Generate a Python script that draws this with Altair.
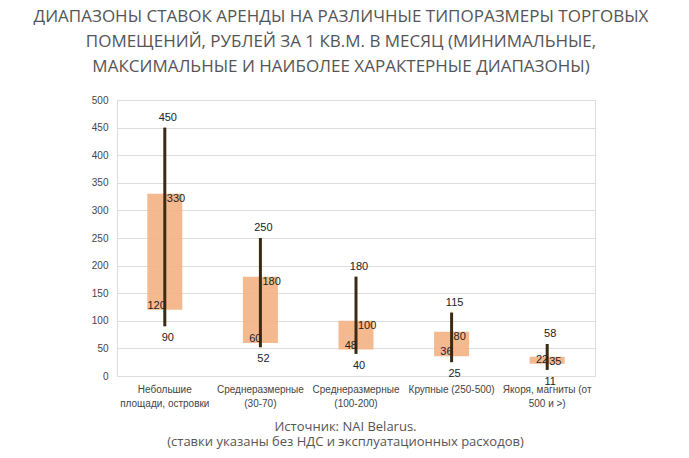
import altair as alt
import pandas as pd

categories = [
    "Небольшие|площади, островки",
    "Среднеразмерные|(30-70)",
    "Среднеразмерные |(100-200)",
    "Крупные (250-500)",
    "Якоря, магниты (от|500 и >)",
]
min_vals = [90, 52, 40, 25, 11]
max_vals = [450, 250, 180, 115, 58]
low_vals = [120, 60, 48, 36, 22]
high_vals = [330, 180, 100, 80, 35]
y_ticks = [0, 50, 100, 150, 200, 250, 300, 350, 400, 450, 500]

df = pd.DataFrame({
    "cat": categories,
    "mn": min_vals,
    "mx": max_vals,
    "lo": low_vals,
    "hi": high_vals,
})

title_lines = [
    "ДИАПАЗОНЫ СТАВОК АРЕНДЫ НА РАЗЛИЧНЫЕ ТИПОРАЗМЕРЫ ТОРГОВЫХ",
    "ПОМЕЩЕНИЙ, РУБЛЕЙ ЗА 1 КВ.М. В МЕСЯЦ (МИНИМАЛЬНЫЕ,",
    "МАКСИМАЛЬНЫЕ И НАИБОЛЕЕ ХАРАКТЕРНЫЕ ДИАПАЗОНЫ)",
]
source_lines = [
    "Источник: NAI Belarus.",
    "(ставки указаны без НДС и эксплуатационных расходов)",
]

x = alt.X(
    "cat:N",
    sort=categories,
    scale=alt.Scale(paddingInner=0, paddingOuter=0),
    axis=alt.Axis(
        title=source_lines,
        titleFont="Open Sans",
        titleFontSize=13,
        titleFontWeight="normal",
        titleColor="#555555",
        titlePadding=12,
        titleX=228,
        titleLineHeight=15,
        labelAngle=0,
        labelExpr="split(datum.label, '|')",
        labelFont="Liberation Sans",
        labelFontSize=10,
        labelColor="#444444",
        labelPadding=8,
        labelLineHeight=14,
        labelOverlap=False,
        domain=False,
        ticks=False,
    ),
)
y_scale = alt.Scale(domain=[0, 500], nice=False)
y_axis = alt.Axis(
    title=None,
    values=y_ticks,
    tickCount=len(y_ticks) + 1,
    labelFont="Liberation Sans",
    labelFontSize=10,
    labelColor="#444444",
    labelPadding=9,
    labelOverlap=False,
    domain=False,
    ticks=False,
    gridColor="#dddddd",
)


def Y(field):
    return alt.Y(field, scale=y_scale, axis=y_axis)


base = alt.Chart(df).encode(x=x)

bars = base.mark_bar(size=35, color="#f4b183", opacity=0.9).encode(
    y=Y("lo:Q"),
    y2="hi:Q",
)
rules = base.mark_rule(color="#3b2b12", strokeWidth=3).encode(
    y=Y("mn:Q"),
    y2="mx:Q",
)
txt_style = dict(font="Liberation Sans", fontSize=11, color="#222222")
t_max = base.mark_text(baseline="bottom", align="center", dx=3, dy=-5, **txt_style).encode(
    y=Y("mx:Q"), text="mx:Q"
)
t_min = base.mark_text(baseline="top", align="center", dx=3, dy=6, **txt_style).encode(
    y=Y("mn:Q"), text="mn:Q"
)
t_lo = base.mark_text(baseline="bottom", align="right", dx=1, dy=1, **txt_style).encode(
    y=Y("lo:Q"), text="lo:Q"
)
t_hi = base.mark_text(baseline="top", align="left", dx=2, dy=-1, **txt_style).encode(
    y=Y("hi:Q"), text="hi:Q"
)

chart = (
    alt.layer(bars, rules, t_max, t_min, t_lo, t_hi)
    .properties(
        width=478,
        height=276,
        autosize=alt.AutoSizeParams(type="none"),
        padding={"left": 109, "top": 92, "right": 86, "bottom": 74},
        title=alt.TitleParams(
            text=title_lines,
            font="Open Sans",
            fontSize=17,
            fontWeight="normal",
            color="#555555",
            anchor="middle",
            dx=-15,
            offset=19,
            lineHeight=25,
        ),
    )
    .configure_view(stroke=None)
    .configure(background="white")
)

chart.save("out.html", embed_options={"renderer": "svg", "actions": False})
